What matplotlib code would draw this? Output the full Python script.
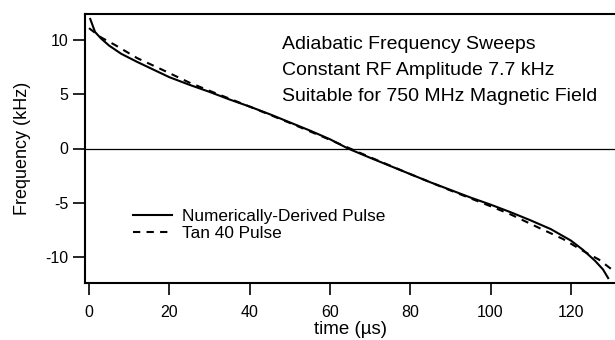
import matplotlib
matplotlib.use("Agg")
import matplotlib.pyplot as plt

plt.rcParams['font.family'] = ['Liberation Sans', 'DejaVu Sans']
plt.rcParams['axes.unicode_minus'] = False

# Numerically-derived adiabatic pulse: time (us) vs frequency offset (kHz)
time_num = [0.3, 1.5, 3, 5, 8, 12, 16, 20, 25, 30, 35, 40, 45, 50, 55, 60,
            64.5, 70, 75, 80, 85, 90, 95, 100, 105, 110, 115, 120, 123, 126,
            128, 129.3]
freq_num = [11.9, 10.7, 10.1, 9.45, 8.7, 7.95, 7.25, 6.55, 5.85, 5.2, 4.5,
            3.85, 3.15, 2.4, 1.65, 0.85, 0.0, -0.85, -1.6, -2.35, -3.1, -3.8,
            -4.5, -5.15, -5.85, -6.6, -7.4, -8.45, -9.3, -10.3, -11.1, -11.9]

# Tan 40 pulse
time_tan = [0, 3, 6.5, 12, 19, 25, 30, 40, 50, 60, 65, 70, 80, 90, 100, 105,
            111, 118, 123.5, 127, 130]
freq_tan = [11.05, 10.2, 9.5, 8.3, 7.1, 6.05, 5.3, 3.85, 2.35, 0.8, 0.0,
            -0.8, -2.35, -3.85, -5.3, -6.05, -7.1, -8.3, -9.5, -10.2, -11.05]

x_ticks = [0, 20, 40, 60, 80, 100, 120]
y_ticks = [-10, -5, 0, 5, 10]
labels = ["Numerically-Derived Pulse", "Tan 40 Pulse"]
note_lines = ["Adiabatic Frequency Sweeps",
              "Constant RF Amplitude 7.7 kHz",
              "Suitable for 750 MHz Magnetic Field"]

fig = plt.figure(figsize=(6.15, 3.4), dpi=100)
ax = fig.add_axes([85 / 615, 1 - 283 / 340, 1 - 85 / 615, (283 - 14) / 340])

ax.axhline(0, color='black', lw=0.9, zorder=1)
ax.plot(time_num, freq_num, color='black', lw=1.5, label=labels[0], zorder=3)
ax.plot(time_tan, freq_tan, color='black', lw=1.5, ls=(0, (3.5, 3)),
        label=labels[1], zorder=2)

ax.set_xlim(-1.0, 131.0)
ax.set_ylim(-12.35, 12.35)
ax.set_xticks(x_ticks)
ax.set_yticks(y_ticks)

for side in ('top', 'left', 'bottom'):
    ax.spines[side].set_linewidth(1.5)
ax.spines['right'].set_visible(False)

ax.tick_params(axis='both', direction='out', length=8.5, width=1.2,
               labelsize=11.5, color='black')
ax.tick_params(axis='x', pad=7)
ax.tick_params(axis='y', pad=3.5)

ax.set_xlabel("time (\u00b5s)", fontsize=13.5, labelpad=1)
ax.set_ylabel("Frequency (kHz)", fontsize=13, labelpad=10)

ax.text(0.372, 0.92, "\n".join(note_lines), transform=ax.transAxes,
        fontsize=14, va='top', ha='left', linespacing=1.72)

ax.legend(loc='lower left', bbox_to_anchor=(0.078, 0.13), frameon=False,
          fontsize=12.4, handlelength=2.25, handletextpad=0.6,
          labelspacing=0.1, borderaxespad=0)

fig.savefig("out.png", dpi=100)
